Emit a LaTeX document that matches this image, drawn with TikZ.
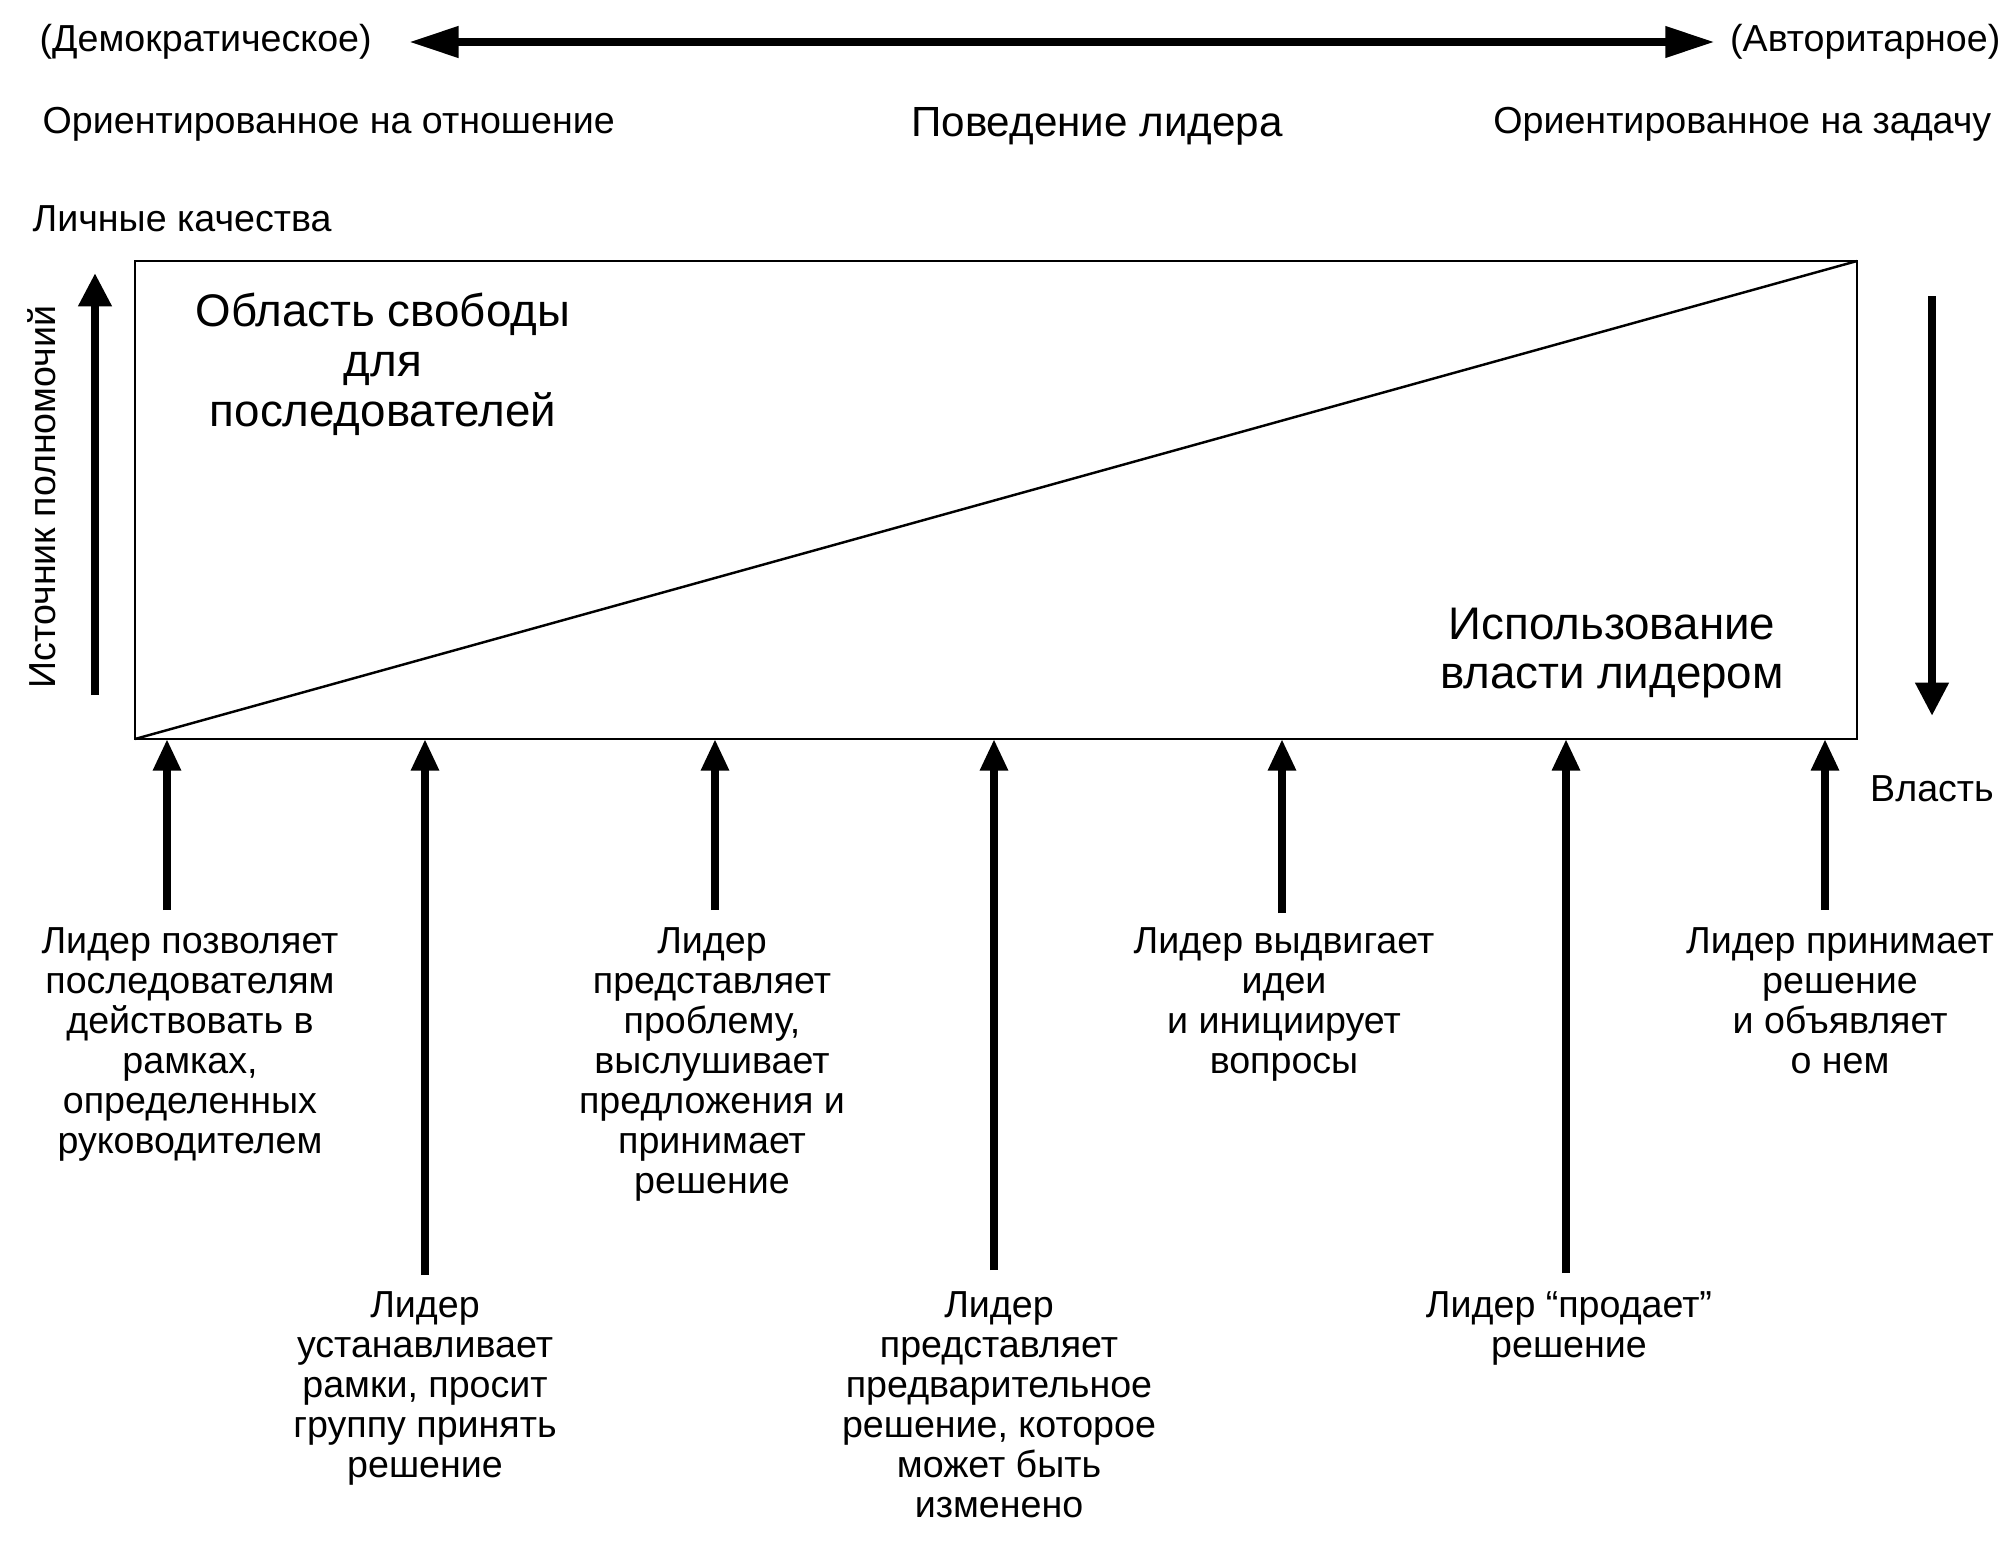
\documentclass[tikz,border=0pt]{standalone}
\usepackage{fontspec}
\setmainfont{Liberation Sans}
\usetikzlibrary{arrows.meta}

\tikzset{
    lbl/.style={font=\fontsize{10.7}{11.4}\selectfont, align=center, inner sep=0pt},
    bigtxt/.style={font=\fontsize{13}{14.2}\selectfont, align=center, inner sep=0pt},
    uparrow/.style={line width=2.2pt, -{Triangle[length=9pt,width=7.5pt]}},
    vertarrow/.style={line width=2.4pt, -{Triangle[length=9.5pt,width=9pt]}},
    axisarrow/.style={line width=2.2pt, {Triangle[length=14pt,width=8.5pt]}-{Triangle[length=14pt,width=8.5pt]}},
}

\begin{document}
\begin{tikzpicture}
    \fill[white] (0,0) rectangle (20.09,15.40);

    \node[lbl, anchor=west] (demo) at (0.39, 14.98) {(Демократическое)};
    \node[lbl, anchor=east] (auth) at (20.01, 14.98) {(Авторитарное)};
    \draw[axisarrow, shorten <=0.37cm, shorten >=0.15cm] (demo) -- (auth);

    \node[lbl, anchor=west] (rel) at (0.42, 14.16) {Ориентированное на отношение};
    \node[lbl, font=\fontsize{12}{13}\selectfont] (beh) at (10.97, 14.14) {Поведение лидера};
    \node[lbl, anchor=east] (task) at (19.92, 14.16) {Ориентированное на задачу};
    \node[lbl, anchor=west] (pers) at (0.32, 13.21) {Личные качества};

    \node[draw, line width=0.7pt, minimum width=17.22cm, minimum height=4.78cm, inner sep=0pt, outer sep=0pt] (box) at (9.96, 10.40) {};
    \draw[line width=0.7pt] (box.south west) -- (box.north east);

    \node[bigtxt] (free) at (3.83, 11.76) {Область свободы\\для\\последователей};
    \node[bigtxt] (use) at (16.12, 8.87) {Использование\\власти лидером};

    \node[lbl, rotate=90] (src) at (0.42, 10.43) {Источник полномочий};
    \coordinate (srcB) at (0.95, 8.45);
    \coordinate (srcT) at (0.95, 12.67);
    \draw[vertarrow] (srcB) -- (srcT);

    \coordinate (powT) at (19.32, 12.44);
    \coordinate (powB) at (19.32, 8.24);
    \draw[vertarrow] (powT) -- (powB);
    \node[lbl] (pow) at (19.32, 7.51) {Власть};

    % styles of leadership
    \node[lbl, anchor=north] (t1) at (1.90, 6.13) {Лидер позволяет\\последователям\\действовать в\\рамках,\\определенных\\руководителем};
    \node[lbl, anchor=north] (t2) at (4.25, 2.49) {Лидер\\устанавливает\\рамки, просит\\группу принять\\решение};
    \node[lbl, anchor=north] (t3) at (7.12, 6.13) {Лидер\\представляет\\проблему,\\выслушивает\\предложения и\\принимает\\решение};
    \node[lbl, anchor=north] (t4) at (9.99, 2.49) {Лидер\\представляет\\предварительное\\решение, которое\\может быть\\изменено};
    \node[lbl, anchor=north] (t5) at (12.84, 6.13) {Лидер выдвигает\\идеи\\и инициирует\\вопросы};
    \node[lbl, anchor=north] (t6) at (15.69, 2.49) {Лидер “продает”\\решение};
    \node[lbl, anchor=north] (t7) at (18.40, 6.13) {Лидер принимает\\решение\\и объявляет\\о нем};

    \coordinate (a1) at (1.67, 6.30);
    \coordinate (a2) at (4.25, 2.65);
    \coordinate (a3) at (7.15, 6.30);
    \coordinate (a4) at (9.94, 2.70);
    \coordinate (a5) at (12.82, 6.27);
    \coordinate (a6) at (15.66, 2.67);
    \coordinate (a7) at (18.25, 6.30);

    \draw[uparrow] (a1) -- (a1 |- box.south);
    \draw[uparrow] (a2) -- (a2 |- box.south);
    \draw[uparrow] (a3) -- (a3 |- box.south);
    \draw[uparrow] (a4) -- (a4 |- box.south);
    \draw[uparrow] (a5) -- (a5 |- box.south);
    \draw[uparrow] (a6) -- (a6 |- box.south);
    \draw[uparrow] (a7) -- (a7 |- box.south);

\end{tikzpicture}
\end{document}
